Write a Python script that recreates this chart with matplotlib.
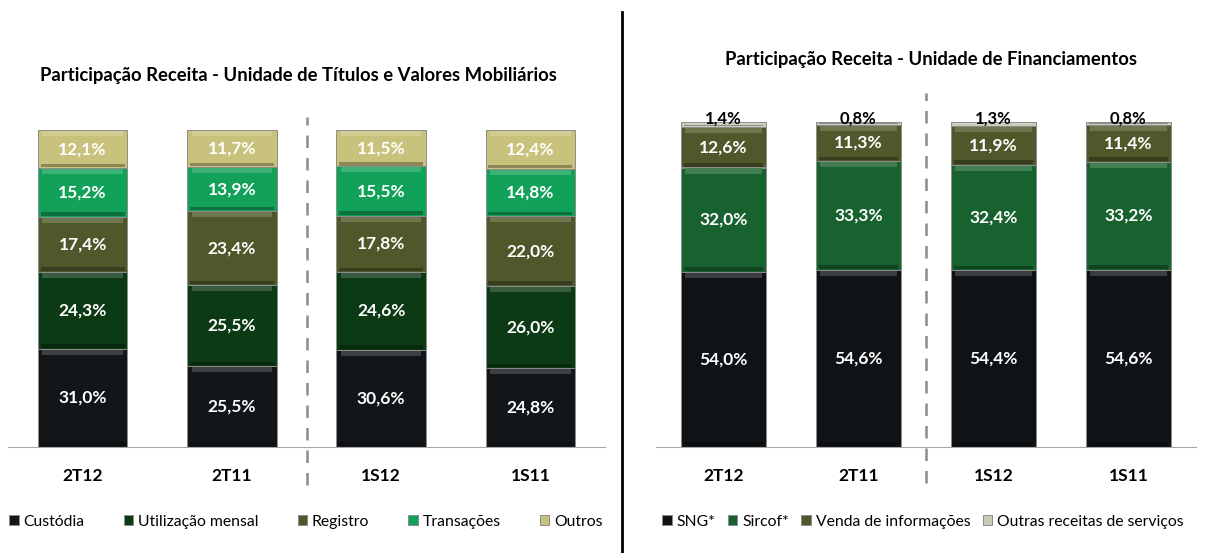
import numpy as np
import matplotlib.pyplot as plt
from matplotlib.colors import to_rgb

plt.rcParams['font.family'] = ['Lato', 'DejaVu Sans']

periods = ['2T12', '2T11', '1S12', '1S11']

# unidade de titulos e valores mobiliarios (bottom -> top)
left_names = ['Custódia', 'Utilização mensal', 'Registro', 'Transações', 'Outros']
custodia = [31.0, 25.5, 30.6, 24.8]
utilizacao = [24.3, 25.5, 24.6, 26.0]
registro = [17.4, 23.4, 17.8, 22.0]
transacoes = [15.2, 13.9, 15.5, 14.8]
outros = [12.1, 11.7, 11.5, 12.4]
left_colors = ['#121619', '#0c3a14', '#4e582a', '#12a158', '#c9c27c']

# unidade de financiamentos (bottom -> top)
right_names = ['SNG*', 'Sircof*', 'Venda de informações', 'Outras receitas de serviços']
sng = [54.0, 54.6, 54.4, 54.6]
sircof = [32.0, 33.3, 32.4, 33.2]
venda = [12.6, 11.3, 11.9, 11.4]
outras_rec = [1.4, 0.8, 1.3, 0.8]
right_colors = ['#101316', '#17622f', '#4e582a', '#c9ccba']


def shade(c, f):
    r, g, b = to_rgb(c)
    if f >= 0:
        return (r + (1 - r) * f, g + (1 - g) * f, b + (1 - b) * f)
    return (r * (1 + f), g * (1 + f), b * (1 + f))


def fmt(v):
    return ('%.1f%%' % v).replace('.', ',')


def stacked(ax, series, colors, width, label_small=False):
    x = np.arange(len(periods))
    bottom = np.zeros(len(periods))
    handles = []
    for vals, col in zip(series, colors):
        vals = np.array(vals)
        h = ax.bar(x, vals, width, bottom=bottom, color=col,
                   edgecolor='#8c8c8c', linewidth=0.7)
        handles.append(h)
        # bevel: light strip on top, dark strip at the bottom of each block
        hl = np.minimum(vals * 0.25, 1.6)
        ax.bar(x, hl, width * 0.9, bottom=bottom + vals - hl - 0.3,
               color=shade(col, 0.18), linewidth=0)
        ax.bar(x, hl * 0.7, width * 0.94, bottom=bottom + 0.3,
               color=shade(col, -0.3), linewidth=0)
        for i in range(len(periods)):
            if label_small and vals[i] < 5:
                ax.text(x[i], bottom[i] + vals[i] + 1.0, fmt(vals[i]),
                        ha='center', va='center', fontsize=12,
                        fontweight='bold', color='black')
            else:
                ax.text(x[i], bottom[i] + vals[i] / 2, fmt(vals[i]),
                        ha='center', va='center', fontsize=12.5,
                        fontweight='bold', color='white')
        bottom = bottom + vals
    ax.set_xlim(-0.5, 3.5)
    ax.set_ylim(0, 100)
    ax.set_xticks(x)
    ax.set_xticklabels(periods, fontsize=12.5, fontweight='bold')
    ax.tick_params(axis='x', length=0, pad=15)
    ax.set_yticks([])
    for s in ['top', 'left', 'right']:
        ax.spines[s].set_visible(False)
    ax.spines['bottom'].set_color('#a6a6a6')
    return handles


fig = plt.figure(figsize=(12.05, 5.53), dpi=100)
W, H = 1205.0, 553.0

ax1 = fig.add_axes([8 / W, (H - 447) / H, 597 / W, 317 / H])
h1 = stacked(ax1, [custodia, utilizacao, registro, transacoes, outros],
             left_colors, 0.6)
ax1.plot([1.5, 1.5], [-12, 104], ls=(0, (5, 4)), color='#8c8c8c', lw=1.8,
         clip_on=False)

ax2 = fig.add_axes([656 / W, (H - 447) / H, 540 / W, 325 / H])
h2 = stacked(ax2, [sng, sircof, venda, outras_rec], right_colors, 0.63,
             label_small=True)
ax2.plot([1.5, 1.5], [-11, 109], ls=(0, (5, 4)), color='#8c8c8c', lw=1.8,
         clip_on=False)

fig.text(298 / W, 1 - 75 / H,
         'Participação Receita - Unidade de Títulos e Valores Mobiliários',
         ha='center', va='center', fontsize=13.3, fontweight='bold')
fig.text(931 / W, 1 - 60 / H,
         'Participação Receita - Unidade de Financiamentos',
         ha='center', va='center', fontsize=13.3, fontweight='bold')

# divider between the two panels
fig.add_artist(plt.Line2D([622 / W, 622 / W], [0, 1 - 12 / H],
                          color='black', lw=2))

fig.legend(h1, left_names, loc='center', bbox_to_anchor=(306 / W, 1 - 522 / H),
           ncol=5, frameon=False, fontsize=11.3, handlelength=0.6,
           handleheight=0.6, handletextpad=0.3, columnspacing=2.5,
           borderaxespad=0, borderpad=0)
fig.legend(h2, right_names, loc='center', bbox_to_anchor=(923 / W, 1 - 522 / H),
           ncol=4, frameon=False, fontsize=11.3, handlelength=0.6,
           handleheight=0.6, handletextpad=0.3, columnspacing=0.8,
           borderaxespad=0, borderpad=0)

fig.savefig('out.png', dpi=100)
